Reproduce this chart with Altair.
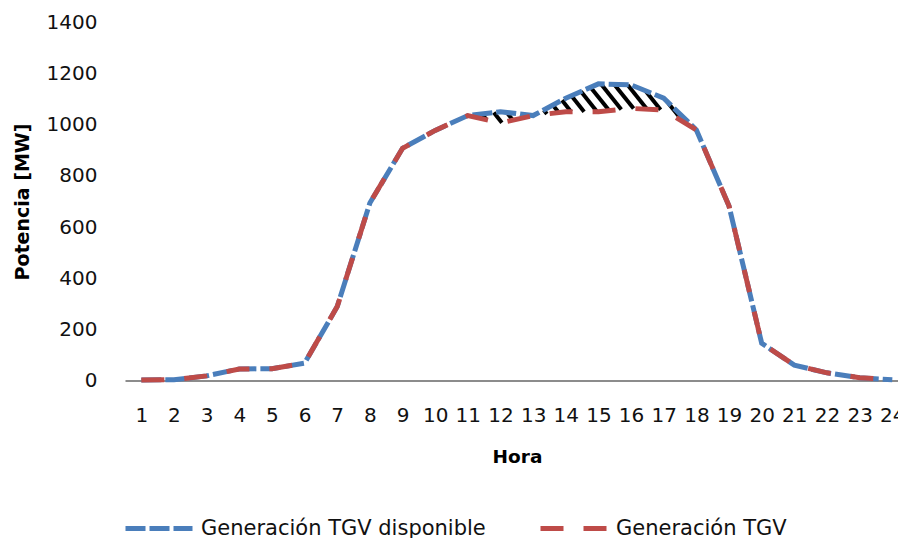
import altair as alt
import pandas as pd
import numpy as np

# ---- data ----
hours = list(range(1, 25))
disponible = [2, 3, 18, 45, 46, 68, 289, 694, 908, 978, 1036, 1051,
              1036, 1104, 1160, 1156, 1104, 980, 682, 146, 60, 30, 11, 3]
generacion = [2, 3, 18, 45, 46, 68, 289, 694, 908, 978, 1036, 1007,
              1036, 1051, 1051, 1064, 1058, 980, 682, 146, 60, 30, 11, 3]
y_ticks = [0, 200, 400, 600, 800, 1000, 1200, 1400]
S_DISP = "Generación TGV disponible"
S_GEN = "Generación TGV"

lines_df = pd.DataFrame({
    "Hora": hours * 2,
    "Potencia": disponible + generacion,
    "Serie": [S_DISP] * len(hours) + [S_GEN] * len(hours),
})

# ---- hatch between the two curves (decoration derived from the data) ----
W, H = 773, 358
X_DOMAIN = [0.5, 0.5 + W / 32.65]
PXH = W / (X_DOMAIN[1] - X_DOMAIN[0])
PXV = H / 1400.0
slope = 1.25
spacing = 13.0
X = np.arange(10.5 * PXH, 17.5 * PXH, 0.1)
hx = X / PXH
top = np.interp(hx, hours, disponible) * PXV
bot = np.interp(hx, hours, generacion) * PXV
segs = []
for c in np.arange(10 * PXH, 20 * PXH + 400, spacing):
    Yl = slope * (c - X)
    inside = (Yl >= bot) & (Yl <= top) & ((top - bot) > 0.3)
    if not inside.any():
        continue
    idx = np.flatnonzero(inside)
    breaks = np.flatnonzero(np.diff(idx) > 1)
    starts = np.concatenate([[idx[0]], idx[breaks + 1]])
    ends = np.concatenate([idx[breaks], [idx[-1]]])
    for s, e in zip(starts, ends):
        if e - s < 3:
            continue
        segs.append({"x": X[s] / PXH, "x2": X[e] / PXH,
                     "y": Yl[s] / PXV, "y2": Yl[e] / PXV})
hatch_df = pd.DataFrame(segs)

FONT = "DejaVu Sans"
xscale = alt.Scale(domain=X_DOMAIN, nice=False, zero=False)
yscale = alt.Scale(domain=[0, 1400], nice=False)

x_axis = alt.Axis(values=hours, grid=False, ticks=False, domainColor="#8c8c8c",
                  domainWidth=2, labelPadding=25, labelFontSize=20, labelFont=FONT,
                  labelColor="#111111", labelOverlap=False, labelFlush=False,
                  title="Hora", titleFont=FONT, titleFontSize=18.5,
                  titleFontWeight="bold", titleColor="#000000",
                  titleX=392, titleY=76, titleBaseline="middle", titleAlign="center")
y_axis = alt.Axis(values=y_ticks, format="d", grid=False, ticks=False, domain=False,
                  labelPadding=28, labelFontSize=20, labelFont=FONT,
                  labelColor="#111111",
                  title="Potencia [MW]", titleFont=FONT, titleFontSize=19,
                  titleFontWeight="bold", titleColor="#000000", titleAngle=270,
                  titleX=-103, titleY=179, titleBaseline="middle", titleAlign="center")

color_scale = alt.Scale(domain=[S_DISP, S_GEN], range=["#4A7EBB", "#BE4B48"])
dash_scale = alt.Scale(domain=[S_DISP, S_GEN], range=[[20, 4], [23, 20]])
legend = alt.Legend(orient="none", legendX=-2, legendY=470, direction="horizontal",
                    symbolType="stroke", symbolSize=4489, symbolStrokeWidth=5,
                    labelFont=FONT, labelFontSize=21, labelColor="#111111",
                    labelLimit=500, labelOffset=6, columnPadding=44, padding=0)

hatch = alt.Chart(hatch_df).mark_rule(color="black", strokeWidth=4).encode(
    x=alt.X("x:Q", scale=xscale, axis=x_axis),
    x2="x2:Q",
    y=alt.Y("y:Q", scale=yscale, axis=y_axis),
    y2="y2:Q",
)

def line_layer(serie):
    return alt.Chart(lines_df).transform_filter(
        alt.datum.Serie == serie
    ).mark_line(strokeWidth=5).encode(
        x=alt.X("Hora:Q", scale=xscale, axis=x_axis),
        y=alt.Y("Potencia:Q", scale=yscale, axis=y_axis),
        color=alt.Color("Serie:N", scale=color_scale, legend=legend, title=None),
        strokeDash=alt.StrokeDash("Serie:N", scale=dash_scale, legend=legend, title=None),
    )

chart = alt.layer(hatch, line_layer(S_DISP), line_layer(S_GEN)).properties(
    width=W, height=H,
    autosize=alt.AutoSizeParams(type="none"),
    padding={"left": 125, "top": 22.5, "right": 0, "bottom": 157.5},
    background="white",
).configure_view(stroke=None)

chart.save("out.html", embed_options={"renderer": "svg", "actions": False})
